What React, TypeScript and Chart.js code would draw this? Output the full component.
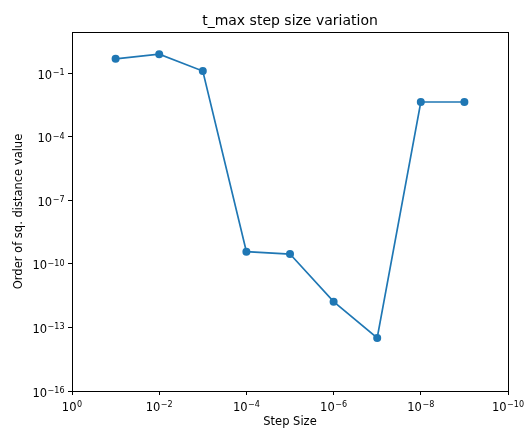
import React, { useEffect, useRef } from "react";
import { Chart, registerables } from "chart.js";

Chart.register(...registerables);

const stepSizes = [1e-1, 1e-2, 1e-3, 1e-4, 1e-5, 1e-6, 1e-7, 1e-8, 1e-9];
const sqDistance = [0.49, 0.81, 0.13, 3.8e-10, 2.95e-10, 1.66e-12, 3.2e-14, 4.5e-3, 4.5e-3];
const xTickValues = [1, 1e-2, 1e-4, 1e-6, 1e-8, 1e-10];
const yTickValues = [1e-16, 1e-13, 1e-10, 1e-7, 1e-4, 1e-1];

const titleText = "t_max step size variation";
const xLabel = "Step Size";
const yLabel = "Order of sq. distance value";

const FONT = "'DejaVu Sans', sans-serif";
const BASE = 11.5;
const SUPSZ = 8.05;

function expText(v: number): string {
  const e = Math.round(Math.log10(v));
  return String(e).replace("-", "\u2212");
}

function drawPow(ctx: any, v: number, x: number, baseline: number, align: "center" | "right") {
  const exp = expText(v);
  ctx.font = `${BASE}px ${FONT}`;
  const wBase = ctx.measureText("10").width;
  ctx.font = `${SUPSZ}px ${FONT}`;
  const wExp = ctx.measureText(exp).width;
  const gap = 0.5;
  const total = wBase + gap + wExp;
  const left = align === "center" ? x - total / 2 : x - total;
  ctx.textAlign = "left";
  ctx.textBaseline = "alphabetic";
  ctx.font = `${BASE}px ${FONT}`;
  ctx.fillText("10", left, baseline);
  ctx.font = `${SUPSZ}px ${FONT}`;
  ctx.fillText(exp, left + wBase + gap, baseline - 3.8);
}

export default function App() {
  const ref = useRef<HTMLCanvasElement | null>(null);

  useEffect(() => {
    if (!ref.current) return;
    const textPlugin = {
      id: "mplText",
      afterDraw(chart: any) {
        const { ctx, chartArea } = chart;
        const xs = chart.scales.x;
        const ys = chart.scales.y;
        ctx.save();
        ctx.strokeStyle = "#000";
        ctx.lineWidth = 1;
        ctx.strokeRect(
          Math.round(chartArea.left) + 0.5,
          Math.round(chartArea.top) + 0.5,
          Math.round(chartArea.right - chartArea.left),
          Math.round(chartArea.bottom - chartArea.top)
        );
        ctx.fillStyle = "#000";
        xTickValues.forEach((v) => {
          drawPow(ctx, v, xs.getPixelForValue(v), chartArea.bottom + 19.5, "center");
        });
        yTickValues.forEach((v) => {
          drawPow(ctx, v, chartArea.left - 7.5, ys.getPixelForValue(v) + 5.5, "right");
        });
        const cx = (chartArea.left + chartArea.right) / 2;
        const cy = (chartArea.top + chartArea.bottom) / 2;
        ctx.textAlign = "center";
        ctx.font = `14px ${FONT}`;
        ctx.textBaseline = "alphabetic";
        ctx.fillText(titleText, cx, 24.5);
        ctx.font = `${BASE}px ${FONT}`;
        ctx.textBaseline = "top";
        ctx.fillText(xLabel, cx, 416);
        ctx.translate(19, cy);
        ctx.rotate(-Math.PI / 2);
        ctx.textBaseline = "middle";
        ctx.fillText(yLabel, 0, 0);
        ctx.restore();
      },
    };

    const chart = new Chart(ref.current, {
      type: "line",
      data: {
        datasets: [
          {
            data: stepSizes.map((x, i) => ({ x, y: sqDistance[i] })),
            borderColor: "#1f77b4",
            backgroundColor: "#1f77b4",
            borderWidth: 1.7,
            pointRadius: 4,
            pointBorderWidth: 0,
            pointBackgroundColor: "#1f77b4",
            tension: 0,
          },
        ],
      },
      options: {
        responsive: false,
        animation: false,
        devicePixelRatio: 1,
        layout: { padding: { top: 32, right: 20, left: 0, bottom: 0 } },
        plugins: {
          legend: { display: false },
          title: { display: false },
          tooltip: { enabled: false },
        },
        scales: {
          x: {
            type: "logarithmic",
            min: 1e-10,
            max: 1,
            reverse: true,
            afterBuildTicks: (scale: any) => {
              scale.ticks = xTickValues.map((v) => ({ value: v }));
            },
            afterFit: (scale: any) => {
              scale.height = 38;
            },
            ticks: { display: false, autoSkip: false, maxRotation: 0 },
            grid: {
              drawOnChartArea: false,
              drawTicks: true,
              tickLength: 4,
              color: "#000",
              lineWidth: 1,
            },
            border: { display: true, color: "#000", width: 1 },
          },
          y: {
            type: "logarithmic",
            min: 1e-16,
            max: 9.1,
            afterBuildTicks: (scale: any) => {
              scale.ticks = yTickValues.map((v) => ({ value: v }));
            },
            afterFit: (scale: any) => {
              scale.width = 72;
            },
            ticks: { display: false, autoSkip: false },
            grid: {
              drawOnChartArea: false,
              drawTicks: true,
              tickLength: 4,
              color: "#000",
              lineWidth: 1,
            },
            border: { display: true, color: "#000", width: 1 },
          },
        },
      },
      plugins: [textPlugin],
    } as any);
    return () => chart.destroy();
  }, []);

  return (
    <div style={{ position: "fixed", left: 0, top: 0, width: 528, height: 429, background: "#fff" }}>
      <canvas ref={ref} width={528} height={429} style={{ display: "block" }} />
    </div>
  );
}
